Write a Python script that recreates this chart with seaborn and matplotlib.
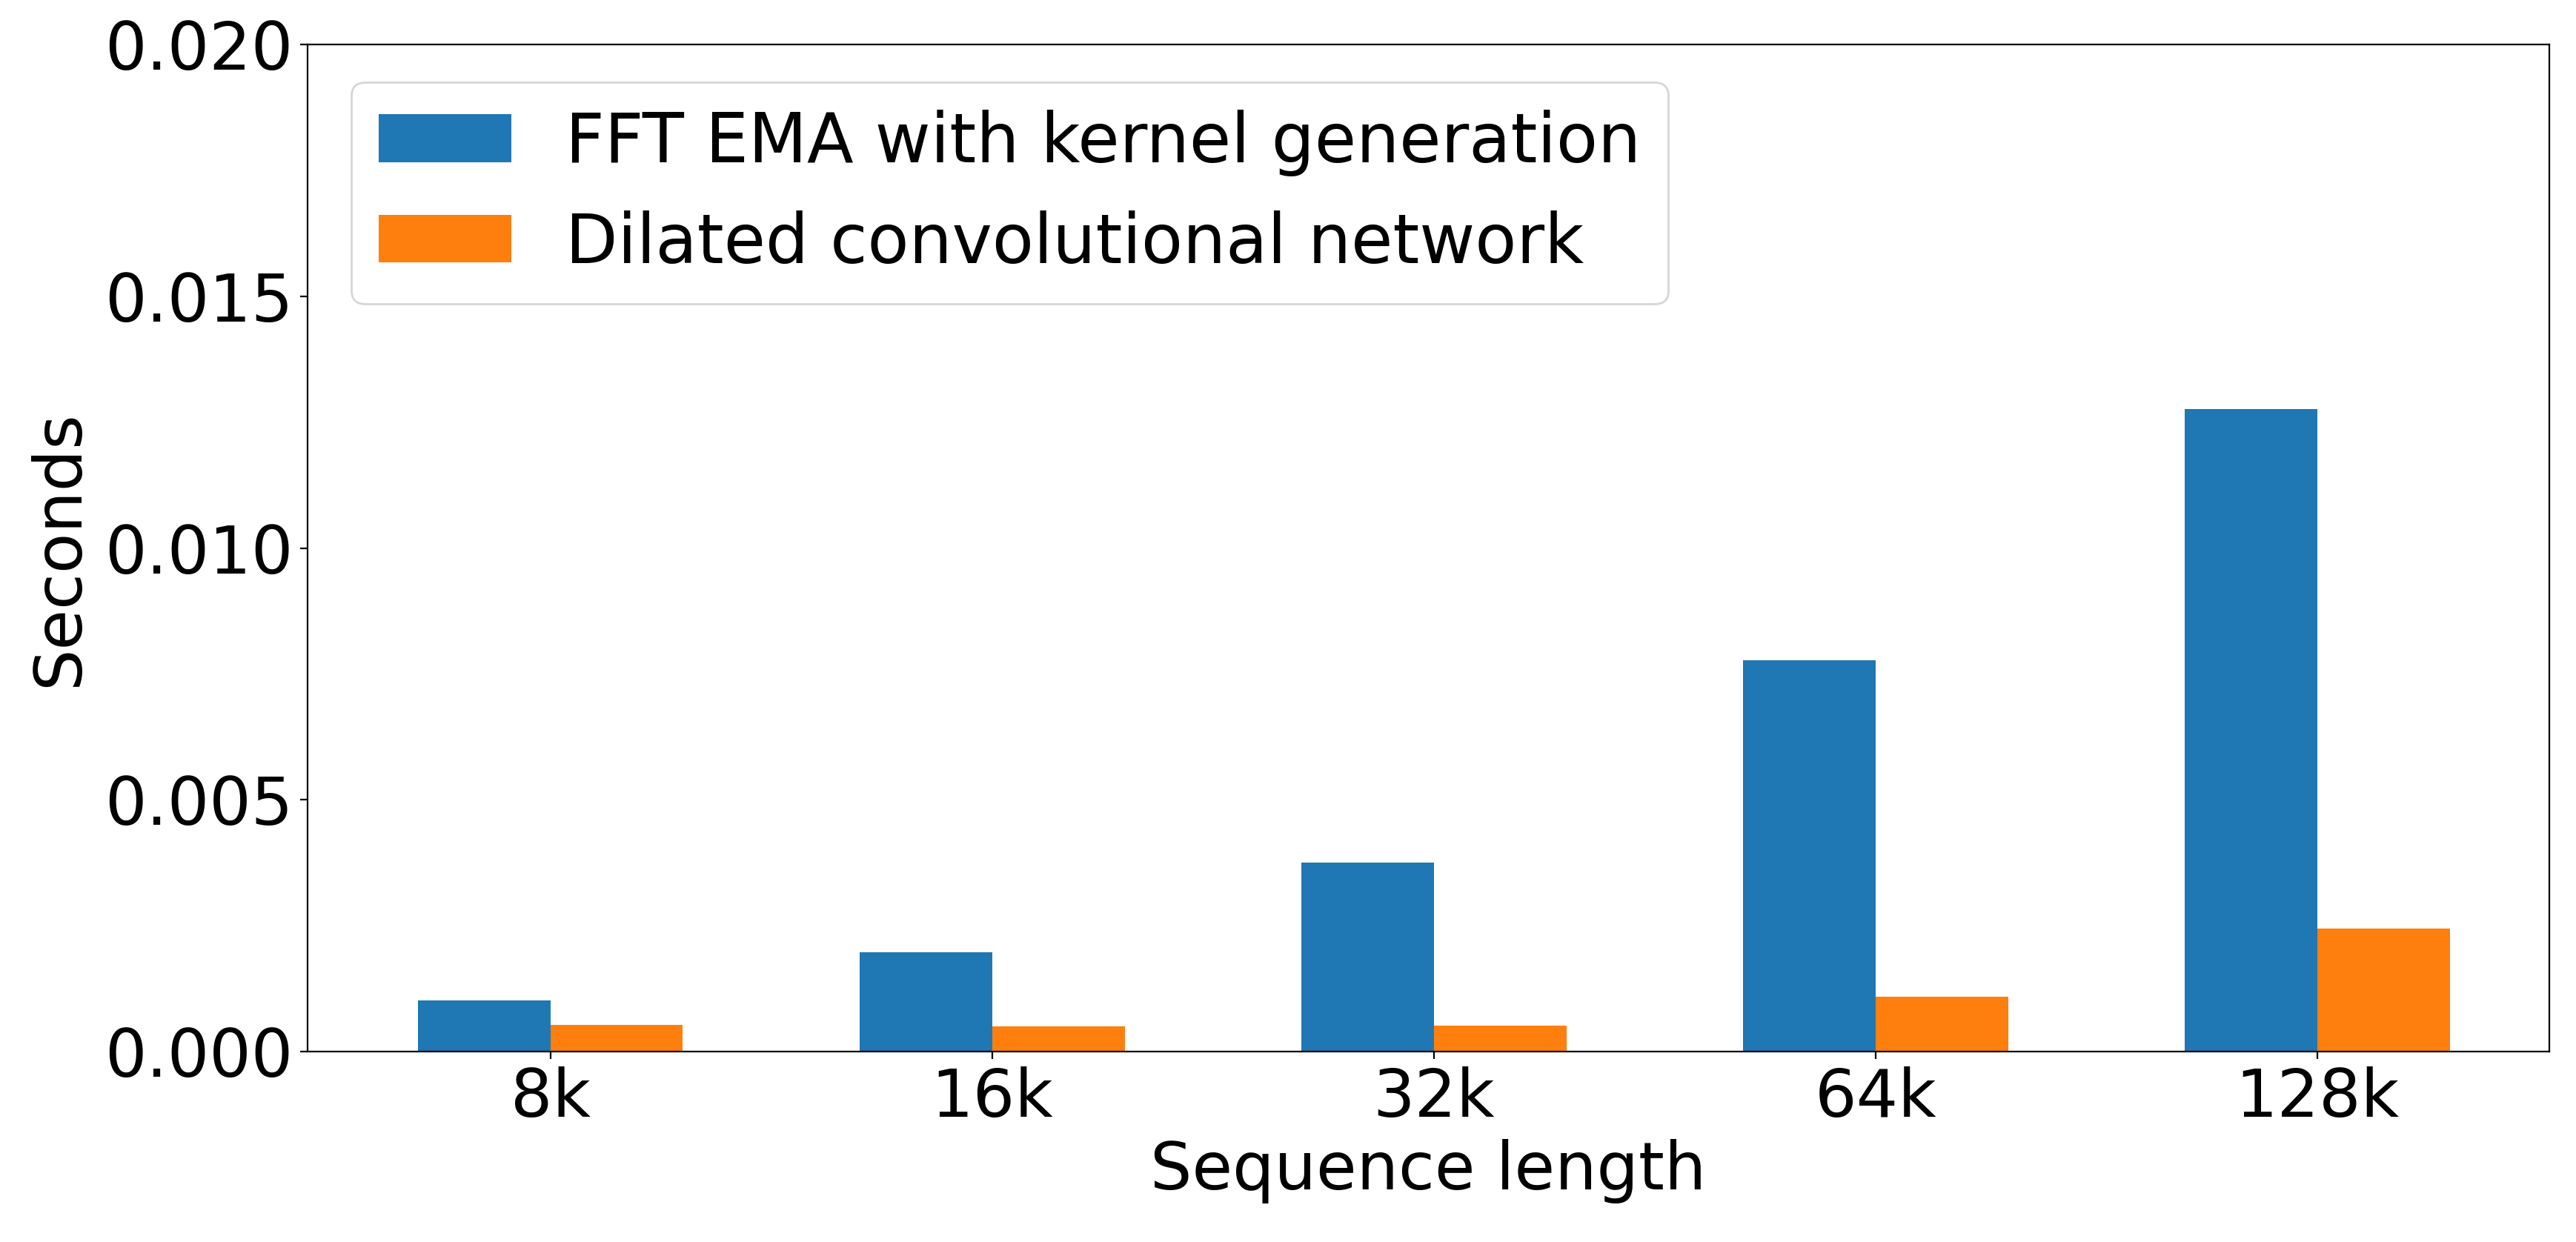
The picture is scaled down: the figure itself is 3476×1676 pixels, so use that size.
import matplotlib
matplotlib.use("Agg")
import matplotlib.pyplot as plt
import seaborn as sns
import pandas as pd

categories = ["8k", "16k", "32k", "64k", "128k"]
series_names = ["FFT EMA with kernel generation", "Dilated convolutional network"]
fft_ema = [0.00101, 0.00198, 0.00376, 0.00777, 0.01277]
dilated = [0.00053, 0.00050, 0.00052, 0.00109, 0.00245]
colors = ["#1f77b4", "#ff7f0e"]

df = pd.DataFrame({
    "Sequence length": categories * 2,
    "Seconds": fft_ema + dilated,
    "Method": [series_names[0]] * len(categories) + [series_names[1]] * len(categories),
})

FS = 32
plt.rcParams["font.family"] = ["DejaVu Sans"]
fig, ax = plt.subplots(figsize=(17.38, 8.38), dpi=200)
fig.subplots_adjust(left=0.1193, right=0.9897, top=0.964, bottom=0.1533)

sns.barplot(data=df, x="Sequence length", y="Seconds", hue="Method",
            palette=colors, width=0.6, saturation=1, ax=ax, errorbar=None)

ax.set_xlim(-0.55, 4.525)
ax.set_ylim(0, 0.020)
ax.set_yticks([0.0, 0.005, 0.010, 0.015, 0.020])
ax.set_yticklabels(["0.000", "0.005", "0.010", "0.015", "0.020"])
ax.tick_params(labelsize=FS)
ax.set_xlabel("Sequence length", fontsize=FS)
ax.set_ylabel("Seconds", fontsize=FS, labelpad=6)
for s in ax.spines.values():
    s.set_visible(True)
    s.set_color("black")

sns.move_legend(ax, "upper left", bbox_to_anchor=(0, 1.0066), title=None,
                fontsize=33, frameon=True, borderaxespad=0.65, handlelength=1.95)

fig.savefig("out.png", dpi=200)
